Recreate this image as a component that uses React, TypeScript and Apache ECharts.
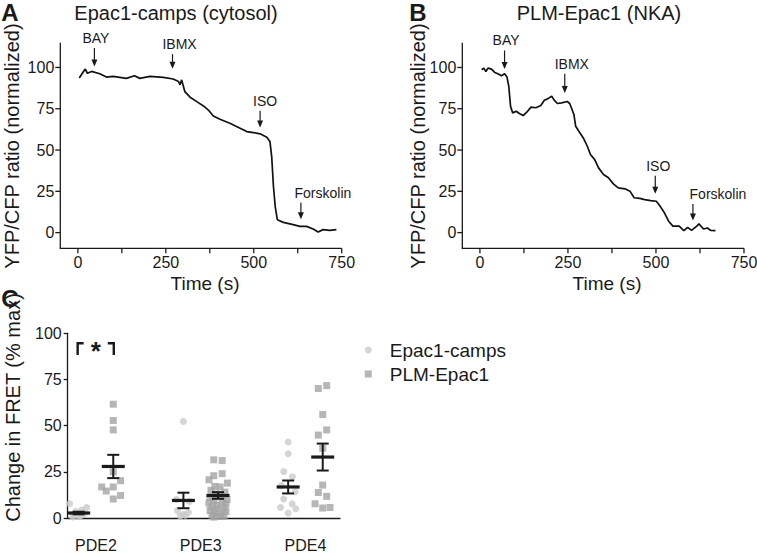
import React, { useEffect, useRef } from 'react';
import * as echarts from 'echarts';

const FONT = '"Liberation Sans", Arial, Helvetica, sans-serif';
const INK = '#1a1a1a';
const AXIS = '#1a1a1a';

// ---------- Panel A: Epac1-camps (cytosol) ----------
const timeA = [4, 16, 21, 27, 39, 62, 81, 100, 138, 161, 176, 205, 243, 271, 286, 290.5, 295, 304, 319, 338, 357, 371, 385, 404, 432, 451, 480, 499, 518, 537, 546, 551, 556, 561, 567, 584, 612, 631, 650, 669, 683, 697, 716, 735];
const ratioA = [93.6, 97.6, 99, 96.5, 97.6, 96.2, 94.2, 94.6, 93.4, 95, 93.4, 94.6, 94, 93, 91.5, 89.5, 92.5, 85.4, 82, 79.3, 76.7, 74.2, 70.6, 68.6, 66.2, 64.2, 61.2, 60.6, 59.8, 57.8, 55.2, 46, 27.9, 15.8, 7.8, 6.2, 4.8, 3.8, 3.8, 2.2, 0.4, 1.8, 1.4, 1.8];
const eventNames = ['BAY', 'IBMX', 'ISO', 'Forskolin'];
const eventTimeA = [47, 269, 518, 634];
const arrowTopA = [111.8, 108.1, 73.8, 18.2];
const arrowTipA = [100.6, 99.2, 63.6, 8.1];
const labelShiftA = [1.5, 7, 5, 22];

// ---------- Panel B: PLM-Epac1 (NKA) ----------
const timeB = [5, 11, 17, 23, 33, 42, 51, 61, 70, 77, 82, 87, 93, 103, 112, 123, 133, 145, 159, 173, 183, 192, 204, 211, 220, 232, 248, 255, 267, 272, 281, 295, 305, 314, 326, 337, 351, 365, 379, 393, 412, 426, 438, 454, 468, 485, 501, 513, 524, 536, 548, 566, 579, 590, 601, 616, 622, 635, 646, 655, 669];
const ratioB = [98.6, 99.6, 97.6, 99.6, 99, 97, 96.2, 95, 96.2, 94.2, 88.6, 76.5, 72.5, 73.5, 72.1, 70.9, 72.9, 76, 75.6, 77, 80.2, 81, 82.6, 80.2, 78.2, 78.6, 79.4, 78.2, 71.5, 64.4, 61.4, 56.8, 52.3, 47.3, 44.2, 39.2, 35.2, 33.2, 29.5, 27.1, 26.5, 25.1, 21.1, 20.7, 20, 19.4, 19, 15.6, 12, 6.9, 3.9, 3.9, 1.2, 3.2, 1.4, 3.9, 5.3, 2.2, 2.8, 1.4, 1.2];
const eventTimeB = [70, 241, 498, 605];
const arrowTopB = [110.3, 96.2, 34.4, 17.4];
const arrowTipB = [99, 84.5, 23.5, 7.3];
const labelShiftB = [1.5, 7, 3, 25];

// Drawn axis frame range of panels A and B
const timeMin = -50;
const timeMax = 750;
const ratioMin = -9.5;
const ratioMax = 115;
// Scale range (slightly padded so the frame and ticks sit inside the grid)
const timeScaleMin = -72.74;
const timeScaleMax = 755.69;
const ratioScaleMin = -14.344;
const ratioScaleMax = 116.21;
const timeTicks = [0, 125, 250, 375, 500, 625, 750];
const timeLabels = [0, 250, 500, 750];
const ratioTicks = [0, 25, 50, 75, 100];

// ---------- Panel C: change in FRET ----------
const categories = ['PDE2', 'PDE3', 'PDE4'];
const epacPDE2 = [7.7, 5.7, 4.3, 3.5, 2.5, 1.8, 1.2, 0.9, 0.5];
const epacPDE2Jitter = [-0.086, 0.076, 0.029, -0.029, 0.057, -0.048, 0.019, 0, -0.057];
const epacPDE3 = [52.2, 10, 9, 4, 3, 2, 1.5, 1];
const epacPDE3Jitter = [0, -0.067, 0.057, -0.057, 0.048, 0, 0.02, -0.03];
const epacPDE4 = [41.1, 34.8, 25.2, 22.3, 17.6, 14.2, 10.3, 7.7, 5.7, 5, 2.7];
const epacPDE4Jitter = [0, 0, -0.042, 0.041, -0.064, 0.067, -0.042, 0.038, -0.073, 0.073, 0];
const plmPDE2 = [61.6, 52.8, 47.7, 25, 20.2, 16.8, 14.6, 16.8, 12.2, 10.3];
const plmPDE2Jitter = [0, 0, 0, 0, 0.07, -0.11, -0.067, 0, 0.07, 0];
const plmPDE3 = [31.5, 31.1, 24, 22.9, 20.7, 18.9, 17.1, 16.8, 15, 14, 13, 12, 11, 10, 9.5, 9, 8, 7.5, 7, 6, 5.5, 5, 4, 3.5, 3, 2, 1.5, 1, 0.8, 0.5];
const plmPDE3Jitter = [-0.04, 0.04, 0.04, -0.04, -0.086, 0.09, -0.03, 0.02, -0.067, 0.067, -0.02, 0.03, -0.076, 0.086, -0.04, 0.04, -0.086, 0.076, -0.01, -0.057, 0.057, 0, -0.076, 0.076, -0.03, 0.03, -0.057, 0.057, 0, -0.04];
const plmPDE4 = [71.7, 70.1, 56, 47.7, 44.9, 37.8, 17.8, 13.8, 11.7, 7.7, 5.4, 5.7];
const plmPDE4Jitter = [0.038, -0.042, 0, 0.038, -0.042, 0, 0, -0.042, 0.038, -0.073, 0, 0.07];
const epacMean = [2.7, 9.5, 16.8];
const epacSem = [0.7, 4.2, 3.5];
const plmMean = [27.9, 12.2, 33];
const plmSem = [6.3, 1.8, 7.3];
const epacOffset = -0.165;
const plmOffset = 0.165;
const bracketX = [-0.175, 0.17];
const bracketTop = 94.6;
const bracketLeg = 88.3;

const epacGroups = [
  [epacPDE2, epacPDE2Jitter],
  [epacPDE3, epacPDE3Jitter],
  [epacPDE4, epacPDE4Jitter],
];
const plmGroups = [
  [plmPDE2, plmPDE2Jitter],
  [plmPDE3, plmPDE3Jitter],
  [plmPDE4, plmPDE4Jitter],
];

function scatterData(groups: number[][][], offset: number) {
  const out: number[][] = [];
  groups.forEach(([vals, jit], ci) => {
    vals.forEach((v, k) => out.push([ci + offset + jit[k], v]));
  });
  return out;
}

function errorBarRender(params: any, api: any) {
  const x = api.value(0);
  const m = api.value(1);
  const s = api.value(2);
  const pm = api.coord([x, m]);
  const pt = api.coord([x, m + s]);
  const pb = api.coord([x, m - s]);
  const half = 11.5;
  const cap = 6;
  const style = { stroke: INK, lineWidth: 2 };
  return {
    type: 'group',
    children: [
      { type: 'line', shape: { x1: pt[0], y1: pt[1], x2: pb[0], y2: pb[1] }, style },
      { type: 'line', shape: { x1: pt[0] - cap, y1: pt[1], x2: pt[0] + cap, y2: pt[1] }, style },
      { type: 'line', shape: { x1: pb[0] - cap, y1: pb[1], x2: pb[0] + cap, y2: pb[1] }, style },
      { type: 'line', shape: { x1: pm[0] - half, y1: pm[1], x2: pm[0] + half, y2: pm[1] }, style: { stroke: INK, lineWidth: 3.2 } },
    ],
  };
}

function bracketRender(params: any, api: any) {
  const l = api.coord([api.value(0), api.value(1)]);
  const r = api.coord([api.value(2), api.value(1)]);
  const b = api.coord([api.value(0), api.value(3)]);
  const arm = 6;
  const style = { stroke: INK, lineWidth: 2.4, fill: 'none' };
  return {
    type: 'group',
    children: [
      { type: 'polyline', shape: { points: [[l[0], b[1]], [l[0], l[1]], [l[0] + arm, l[1]]] }, style },
      { type: 'polyline', shape: { points: [[r[0] - arm, r[1]], [r[0], r[1]], [r[0], b[1]]] }, style },
      {
        type: 'text',
        x: (l[0] + r[0]) / 2,
        y: l[1] + 8,
        style: { text: '*', fontSize: 26, fontWeight: 'bold', fontFamily: FONT, fill: INK, align: 'center', verticalAlign: 'middle', textAlign: 'center', textVerticalAlign: 'middle' },
      },
    ],
  };
}

function makeArrowRender(shifts: number[]) {
  return function (params: any, api: any) {
    const t = api.value(0);
    const p1 = api.coord([t, api.value(1)]);
    const p2 = api.coord([t, api.value(2)]);
    const i = params.dataIndex;
    return {
      type: 'group',
      children: [
        { type: 'line', shape: { x1: p1[0], y1: p1[1], x2: p2[0], y2: p2[1] - 2 }, style: { stroke: INK, lineWidth: 1.2 } },
        { type: 'polygon', shape: { points: [[p2[0] - 3, p2[1] - 7], [p2[0] + 3, p2[1] - 7], [p2[0], p2[1]]] }, style: { fill: INK } },
        {
          type: 'text',
          x: p1[0] + shifts[i],
          y: p1[1] - 3,
          style: { text: eventNames[i], fontSize: 14, fontFamily: FONT, fill: INK, align: 'center', verticalAlign: 'bottom', textAlign: 'center', textVerticalAlign: 'bottom' },
        },
      ],
    };
  };
}

// Axis frame (lines, outward ticks and tick labels) drawn through the grid's own scales.
function frameRender(params: any, api: any) {
  const o = api.coord([timeMin, ratioMin]);
  const xe = api.coord([timeMax, ratioMin]);
  const yt = api.coord([timeMin, ratioMax]);
  const style = { stroke: AXIS, lineWidth: 1.3 };
  const children: any[] = [
    { type: 'line', shape: { x1: o[0] - 0.6, y1: o[1], x2: xe[0], y2: xe[1] }, style },
    { type: 'line', shape: { x1: o[0], y1: o[1], x2: yt[0], y2: yt[1] }, style },
  ];
  timeTicks.forEach((t) => {
    const p = api.coord([t, ratioMin]);
    children.push({ type: 'line', shape: { x1: p[0], y1: p[1], x2: p[0], y2: p[1] + 5 }, style });
  });
  timeLabels.forEach((t) => {
    const p = api.coord([t, ratioMin]);
    children.push({
      type: 'text',
      x: p[0],
      y: p[1] + 6,
      style: { text: String(t), fontSize: 16, fontFamily: FONT, fill: INK, align: 'center', verticalAlign: 'top', textAlign: 'center', textVerticalAlign: 'top' },
    });
  });
  ratioTicks.forEach((v) => {
    const p = api.coord([timeMin, v]);
    children.push({ type: 'line', shape: { x1: p[0] - 5, y1: p[1], x2: p[0], y2: p[1] }, style });
    children.push({
      type: 'text',
      x: p[0] - 6,
      y: p[1],
      style: { text: String(v), fontSize: 16, fontFamily: FONT, fill: INK, align: 'right', verticalAlign: 'middle', textAlign: 'right', textVerticalAlign: 'middle' },
    });
  });
  return { type: 'group', children };
}

function axisLineStyle() {
  return { show: true, onZero: false, lineStyle: { color: AXIS, width: 1.3 } };
}

function hiddenAxis(gridIndex: number, min: number, max: number) {
  return {
    type: 'value',
    gridIndex,
    min,
    max,
    axisLine: { show: false, onZero: false },
    axisTick: { show: false },
    axisLabel: { show: false },
    splitLine: { show: false },
  };
}

function txt(text: string, x: number, y: number, size: number, opts: any = {}) {
  return {
    type: 'text',
    x,
    y,
    rotation: opts.rotation || 0,
    style: {
      text,
      fontSize: size,
      fontWeight: opts.bold ? 'bold' : 'normal',
      fontFamily: FONT,
      fill: INK,
      align: 'center',
      verticalAlign: 'middle',
      textAlign: 'center',
      textVerticalAlign: 'middle',
    },
  };
}

const option: any = {
  animation: false,
  textStyle: { fontFamily: FONT },
  grid: [
    { left: 52.3, top: 40.7, width: 291.4, height: 215.6 },
    { left: 454.3, top: 40.7, width: 291.7, height: 215.6 },
    { left: 67.7, top: 333.3, width: 272.3, height: 185 },
  ],
  xAxis: [
    hiddenAxis(0, timeScaleMin, timeScaleMax),
    hiddenAxis(1, timeScaleMin, timeScaleMax),
    {
      type: 'value',
      gridIndex: 2,
      min: -0.27,
      max: 2.33,
      axisLine: axisLineStyle(),
      axisTick: { show: false },
      axisLabel: {
        customValues: [0, 1, 2],
        formatter: (v: number) => categories[Math.round(v)] || '',
        color: INK,
        fontSize: 16,
        fontFamily: FONT,
        margin: 19,
      },
      splitLine: { show: false },
    },
  ],
  yAxis: [
    hiddenAxis(0, ratioScaleMin, ratioScaleMax),
    hiddenAxis(1, ratioScaleMin, ratioScaleMax),
    {
      type: 'value',
      gridIndex: 2,
      min: 0,
      max: 100,
      interval: 25,
      axisLine: axisLineStyle(),
      axisTick: { show: true, length: 4, lineStyle: { color: AXIS, width: 1.3 } },
      axisLabel: { color: INK, fontSize: 16, fontFamily: FONT, margin: 6 },
      splitLine: { show: false },
    },
  ],
  legend: {
    data: [
      { name: 'Epac1-camps', icon: 'circle' },
      { name: 'PLM-Epac1', icon: 'rect' },
    ],
    orient: 'vertical',
    left: 364.8,
    top: 340.5,
    padding: 0,
    itemWidth: 7,
    itemHeight: 7,
    itemGap: 5,
    selectedMode: false,
    textStyle: { fontSize: 19, color: INK, fontFamily: FONT, padding: [0, 0, 0, 13] },
  },
  series: [
    {
      type: 'custom',
      name: 'frameA',
      xAxisIndex: 0,
      yAxisIndex: 0,
      z: 20,
      clip: false,
      silent: true,
      renderItem: frameRender,
      data: [[timeMin, ratioMin]],
    },
    {
      type: 'custom',
      name: 'frameB',
      xAxisIndex: 1,
      yAxisIndex: 1,
      z: 20,
      clip: false,
      silent: true,
      renderItem: frameRender,
      data: [[timeMin, ratioMin]],
    },
    {
      type: 'line',
      name: 'traceA',
      xAxisIndex: 0,
      yAxisIndex: 0,
      data: timeA.map((t, i) => [t, ratioA[i]]),
      symbol: 'none',
      lineStyle: { color: '#111111', width: 1.7 },
    },
    {
      type: 'line',
      name: 'traceB',
      xAxisIndex: 1,
      yAxisIndex: 1,
      data: timeB.map((t, i) => [t, ratioB[i]]),
      symbol: 'none',
      lineStyle: { color: '#111111', width: 1.7 },
    },
    {
      type: 'custom',
      name: 'arrowsA',
      xAxisIndex: 0,
      yAxisIndex: 0,
      clip: false,
      silent: true,
      renderItem: makeArrowRender(labelShiftA),
      data: eventTimeA.map((t, i) => [t, arrowTopA[i], arrowTipA[i]]),
    },
    {
      type: 'custom',
      name: 'arrowsB',
      xAxisIndex: 1,
      yAxisIndex: 1,
      clip: false,
      silent: true,
      renderItem: makeArrowRender(labelShiftB),
      data: eventTimeB.map((t, i) => [t, arrowTopB[i], arrowTipB[i]]),
    },
    {
      type: 'scatter',
      name: 'Epac1-camps',
      xAxisIndex: 2,
      yAxisIndex: 2,
      symbol: 'circle',
      symbolSize: 7,
      itemStyle: { color: '#cacaca' },
      data: scatterData(epacGroups, epacOffset),
    },
    {
      type: 'scatter',
      name: 'PLM-Epac1',
      xAxisIndex: 2,
      yAxisIndex: 2,
      symbol: 'rect',
      symbolSize: 7,
      itemStyle: { color: '#a4a4a4' },
      data: scatterData(plmGroups, plmOffset),
    },
    {
      type: 'custom',
      name: 'epacErr',
      xAxisIndex: 2,
      yAxisIndex: 2,
      z: 5,
      clip: false,
      renderItem: errorBarRender,
      data: categories.map((c, i) => [i + epacOffset, epacMean[i], epacSem[i]]),
    },
    {
      type: 'custom',
      name: 'plmErr',
      xAxisIndex: 2,
      yAxisIndex: 2,
      z: 5,
      clip: false,
      renderItem: errorBarRender,
      data: categories.map((c, i) => [i + plmOffset, plmMean[i], plmSem[i]]),
    },
    {
      type: 'custom',
      name: 'bracket',
      xAxisIndex: 2,
      yAxisIndex: 2,
      z: 5,
      clip: false,
      renderItem: bracketRender,
      data: [[bracketX[0], bracketTop, bracketX[1], bracketLeg]],
    },
  ],
  graphic: [
    txt('A', 10, 12, 24, { bold: true }),
    txt('B', 418, 12, 24, { bold: true }),
    txt('C', 10, 298, 24, { bold: true }),
    txt('Epac1-camps (cytosol)', 176, 12.5, 20),
    txt('PLM-Epac1 (NKA)', 599, 12.5, 20),
    txt('Time (s)', 205, 283, 19),
    txt('Time (s)', 607, 283, 19),
    txt('YFP/CFP ratio (normalized)', 12, 146, 20, { rotation: Math.PI / 2 }),
    txt('YFP/CFP ratio (normalized)', 417.5, 146, 20, { rotation: Math.PI / 2 }),
    txt('Change in FRET (% max)', 13, 407.5, 20, { rotation: Math.PI / 2 }),
  ],
};

export default function App() {
  const ref = useRef<HTMLDivElement>(null);
  useEffect(() => {
    if (!ref.current) return;
    const chart = echarts.init(ref.current, null, { renderer: 'svg' });
    chart.setOption(option);
    return () => chart.dispose();
  }, []);
  return (
    <div
      ref={ref}
      style={{ position: 'absolute', left: 0, top: 0, width: 757, height: 553, background: '#fff' }}
    />
  );
}
